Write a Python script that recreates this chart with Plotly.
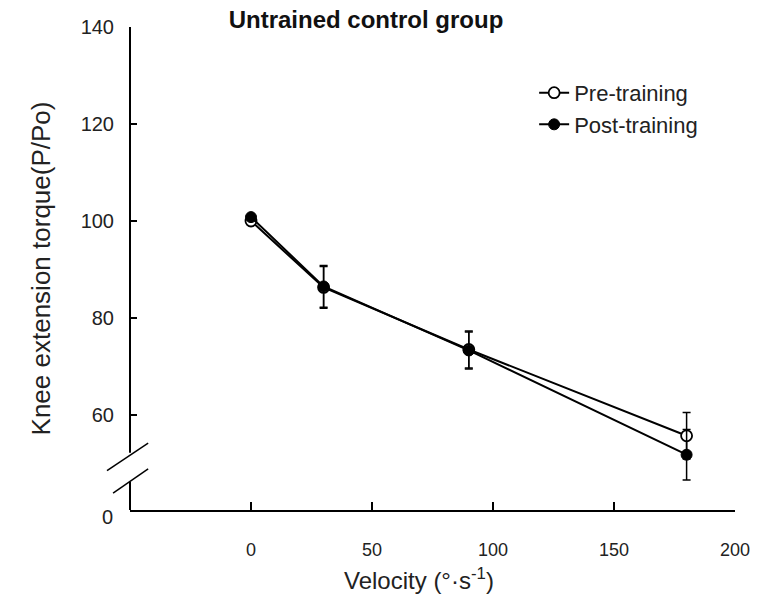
import plotly.graph_objects as go

velocity = [0, 30, 90, 180]
pre_training = [100.0, 86.3, 73.5, 55.7]
pre_err = [0.0, 4.3, 3.8, 4.8]
post_training = [100.8, 86.5, 73.3, 51.8]
post_err = [0.0, 4.3, 3.8, 5.2]

y_ticks = [60, 80, 100, 120, 140]
x_ticks = [0, 50, 100, 150, 200]
y_bottom = 40.4
break_hi = 52.2
break_lo = 46.2

FONT = "Liberation Sans, Arial, sans-serif"

fig = go.Figure()
fig.add_trace(go.Scatter(
    x=velocity, y=pre_training, name="Pre-training", mode="lines+markers",
    line=dict(color="black", width=2),
    marker=dict(symbol="circle", size=11, color="white", line=dict(color="black", width=1.8)),
    error_y=dict(type="data", array=pre_err, visible=True, color="black", thickness=1.5, width=4),
))
fig.add_trace(go.Scatter(
    x=velocity, y=post_training, name="Post-training", mode="lines+markers",
    line=dict(color="black", width=2),
    marker=dict(symbol="circle", size=11, color="black", line=dict(color="black", width=1)),
    error_y=dict(type="data", array=post_err, visible=True, color="black", thickness=1.5, width=4),
))

# broken y-axis line segments and break marks
line_style = dict(color="black", width=2)
fig.add_shape(type="line", xref="x domain", yref="y", x0=0, x1=0, y0=break_hi, y1=140, line=line_style)
fig.add_shape(type="line", xref="x domain", yref="y", x0=0, x1=0, y0=y_bottom, y1=break_lo, line=line_style)
fig.add_shape(type="line", xref="x domain", yref="y", x0=-0.038, x1=0.03, y0=48.5, y1=54.2, line=dict(color="black", width=1.5))
fig.add_shape(type="line", xref="x domain", yref="y", x0=-0.028, x1=0.03, y0=43.9, y1=48.9, line=dict(color="black", width=1.5))

fig.add_annotation(xref="x domain", yref="y", x=0, y=y_bottom, text="0", showarrow=False,
                   xanchor="right", yanchor="middle", xshift=-15, yshift=-7,
                   font=dict(family=FONT, size=20, color="#222"))

# x-axis title (slightly left of plot centre, as in the reference)
fig.add_annotation(xref="x domain", yref="paper", x=0.478, y=0, yshift=-69, text="Velocity (°·s<sup>-1</sup>)",
                   showarrow=False, xanchor="center", yanchor="middle",
                   font=dict(family=FONT, size=24, color="#222"))

fig.update_layout(
    width=761, height=595,
    margin=dict(l=130, r=26, t=27, b=85),
    paper_bgcolor="white", plot_bgcolor="white",
    font=dict(family=FONT, size=20, color="#222"),
    title=dict(text="<b>Untrained control group</b>", x=366/761, xanchor="center",
               y=1 - 20/595, yanchor="middle", font=dict(family=FONT, size=24, color="#111")),
    showlegend=True,
    legend=dict(x=0.668, y=0.907, xanchor="left", yanchor="top", bgcolor="rgba(0,0,0,0)",
                font=dict(family=FONT, size=22, color="#222"), traceorder="normal"),
    xaxis=dict(range=[-50, 200], tickvals=x_ticks, ticks="inside", ticklen=8, tickwidth=1.5,
               tickcolor="black", showline=True, linecolor="black", linewidth=2,
               showgrid=False, zeroline=False, ticklabelstandoff=22,
               tickfont=dict(family=FONT, size=18)),
    yaxis=dict(range=[y_bottom, 140], tickvals=y_ticks, ticks="inside", ticklen=7, tickwidth=1.5,
               tickcolor="black", showline=False, showgrid=False, zeroline=False,
               ticklabelstandoff=15, tickfont=dict(family=FONT, size=20),
               title=dict(text="Knee extension torque(P/Po)", font=dict(family=FONT, size=26), standoff=22)),
)

fig.write_html("out.html")
